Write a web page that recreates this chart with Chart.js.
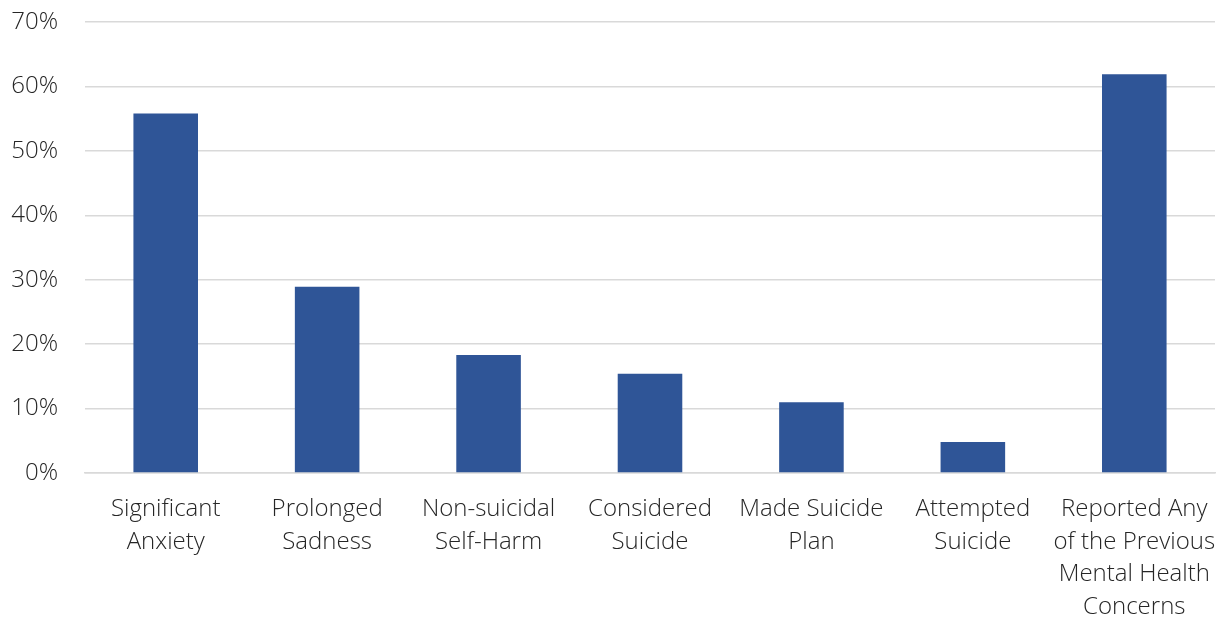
<!DOCTYPE html>
<html>
<head>
<meta charset="utf-8">
<script src="https://cdn.jsdelivr.net/npm/chart.js@4"></script>
<style>
  html, body { margin: 0; padding: 0; background: #fff; }
  #wrap { width: 1220px; height: 617px; }
</style>
</head>
<body>
<div id="wrap"><canvas id="bar"></canvas></div>
<script>
  // Categories (one line per array entry) and shares in percent
  const categories = [
    ['Significant', 'Anxiety'],
    ['Prolonged', 'Sadness'],
    ['Non-suicidal', 'Self-Harm'],
    ['Considered', 'Suicide'],
    ['Made Suicide', 'Plan'],
    ['Attempted', 'Suicide'],
    ['Reported Any', 'of the Previous', 'Mental Health', 'Concerns'],
  ];
  const shares = [55.8, 28.9, 18.3, 15.4, 11.0, 4.8, 61.9];
  const yTicks = [0, 10, 20, 30, 40, 50, 60, 70];

  const font = { family: "'Open Sans', 'Segoe UI', sans-serif", size: 24, weight: 300, lineHeight: 1.36 };

  const config = {
    type: 'bar',
    data: {
      labels: categories,
      datasets: [{
        data: shares,
        backgroundColor: '#2F5597',
        borderWidth: 0,
        categoryPercentage: 1,
        barPercentage: 0.4,
      }]
    },
    options: {
      responsive: true,
      maintainAspectRatio: false,
      animation: false,
      layout: { padding: { top: 22, right: 5, left: 0, bottom: 0 } },
      plugins: { legend: { display: false }, tooltip: { enabled: false } },
      scales: {
        x: {
          grid: { display: false },
          border: { color: '#d9d9d9', width: 1.5 },
          ticks: { color: '#262626', font: font, maxRotation: 0, autoSkip: false, padding: 12 },
          afterFit: (s) => {
            s.height = 144;
            s.paddingLeft = 0;
            s.paddingRight = 0;
          },
        },
        y: {
          min: 0,
          max: 70,
          afterBuildTicks: (s) => { s.ticks = yTicks.map(v => ({ value: v })); },
          grid: { color: '#d9d9d9', lineWidth: 1.5, drawTicks: false },
          border: { display: false },
          ticks: { color: '#262626', font: font, padding: 27, callback: (v) => v + '%' },
          afterFit: (s) => {
            s.width = 85;
            s.paddingTop = 0;
            s.paddingBottom = 0;
          },
        }
      }
    }
  };

  new Chart(document.getElementById('bar'), config);
</script>
</body>
</html>
